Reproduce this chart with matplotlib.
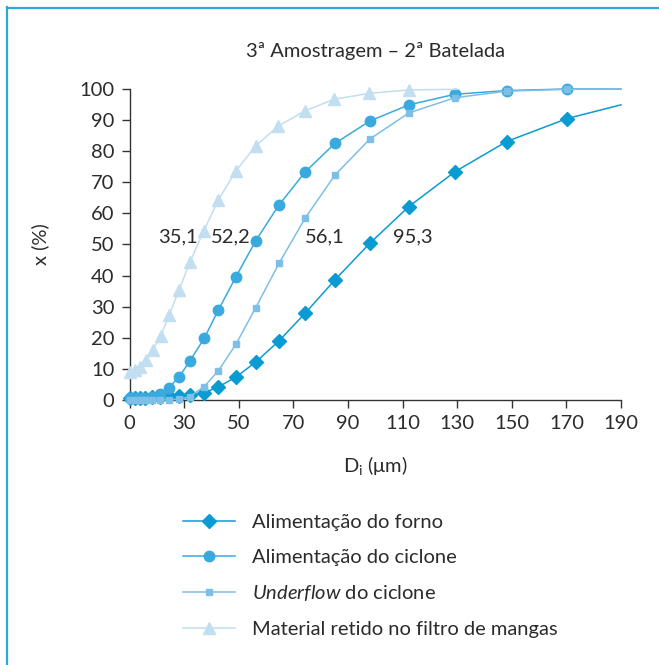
import matplotlib
matplotlib.use("Agg")
import matplotlib.pyplot as plt
from matplotlib.lines import Line2D

plt.rcParams['font.family'] = ['Lato', 'DejaVu Sans']
plt.rcParams['mathtext.fontset'] = 'custom'
plt.rcParams['mathtext.rm'] = 'Lato'
plt.rcParams['mathtext.it'] = 'Lato:italic'

# eixo x: o primeiro tick aparece como "0" na posicao 10
d_forno = [10.0, 11.9, 13.8, 15.7, 18.2, 21.1, 24.4, 28.2, 32.1, 37.3, 42.5, 49.0,
           56.2, 64.7, 74.4, 85.2, 98.0, 112.3, 129.2, 148.1, 170.3, 190.0]
x_forno = [0.5, 0.5, 0.6, 0.7, 0.9, 1.0, 1.2, 1.3, 1.6, 2.3, 4.2, 7.4,
           12.2, 19.0, 28.0, 38.6, 50.4, 62.2, 73.4, 83.1, 90.5, 94.9]

d_ciclone = [10.0, 11.9, 13.8, 15.7, 18.2, 21.1, 24.4, 28.2, 32.1, 37.3, 42.5, 49.0,
             56.2, 64.7, 74.4, 85.2, 98.0, 112.3, 129.2, 148.1, 170.3, 190.0]
x_ciclone = [0.5, 0.6, 0.7, 0.8, 1.1, 1.9, 4.0, 7.5, 12.6, 19.8, 28.9, 39.7,
             51.2, 62.7, 73.4, 82.5, 89.7, 94.9, 98.3, 99.5, 100.0, 100.0]

d_under = [10.0, 11.9, 13.8, 15.7, 18.2, 21.1, 24.4, 28.2, 32.1, 37.3, 42.5, 49.0,
           56.2, 64.7, 74.4, 85.2, 98.0, 112.3, 129.2, 148.1, 170.3, 190.0]
x_under = [0.0, 0.0, 0.0, 0.0, 0.0, 0.0, 0.1, 0.2, 1.1, 4.3, 9.4, 18.0,
           29.7, 43.9, 58.6, 72.3, 83.9, 92.3, 97.2, 99.3, 99.9, 100.0]

d_filtro = [10.1, 12.0, 13.8, 15.9, 18.5, 21.4, 24.5, 28.1, 32.1, 37.1, 42.5, 48.9,
            56.2, 64.5, 74.3, 85.0, 97.8, 112.3, 130.0]
x_filtro = [9.1, 9.6, 10.7, 12.9, 16.1, 20.6, 27.3, 35.4, 44.3, 54.3, 64.3, 73.6,
            81.7, 88.1, 93.0, 96.7, 98.6, 99.7, 99.9]

d50_txt = ['35,1', '52,2', '56,1', '95,3']
d50_x = [27.8, 47.1, 81.5, 113.8]
d50_y = [52.4, 52.4, 52.4, 52.4]

xticks = [10, 30, 50, 70, 90, 110, 130, 150, 170, 190]
xtick_labels = ['0', '30', '50', '70', '90', '110', '130', '150', '170', '190']
yticks = [0, 10, 20, 30, 40, 50, 60, 70, 80, 90, 100]

cor_forno = '#0a9bd3'
cor_ciclone = '#3aaade'
cor_under = '#7dbfe6'
cor_filtro = '#c2def1'
cor_texto = '#2b2b2b'
fs = 14.5

fig = plt.figure(figsize=(6.59, 6.65), dpi=100)
ax = fig.add_axes([0.1967, 0.3985, 0.7456, 0.4677])

ax.plot(d_forno, x_forno, color=cor_forno, lw=1.1, marker='D', ms=6.8,
        markevery=list(range(len(d_forno) - 1)), clip_on=False, zorder=3,
        label='Alimentação do forno')
ax.plot(d_ciclone, x_ciclone, color=cor_ciclone, lw=1.1, marker='o', ms=7.5,
        markevery=list(range(len(d_ciclone) - 1)), clip_on=False, zorder=3,
        label='Alimentação do ciclone')
ax.plot(d_under, x_under, color=cor_under, lw=1.1, marker='s', ms=5,
        markevery=list(range(len(d_under) - 1)), clip_on=False, zorder=3,
        label=r'$\mathit{Underflow}$ do ciclone')
ax.plot(d_filtro, x_filtro, color=cor_filtro, lw=1.1, marker='^', ms=8.5,
        markevery=list(range(len(d_filtro) - 1)), clip_on=False, zorder=3,
        label='Material retido no filtro de mangas')

for t, xx, yy in zip(d50_txt, d50_x, d50_y):
    ax.text(xx, yy, t, ha='center', va='center', fontsize=fs, color=cor_texto)

ax.set_xlim(10, 190)
ax.set_ylim(0, 100)
ax.set_xticks(xticks)
ax.set_xticklabels(xtick_labels)
ax.set_yticks(yticks)
ax.tick_params(axis='both', direction='out', length=6, width=1, color='#333333',
               labelsize=fs, labelcolor=cor_texto, pad=5)
for s in ['top', 'right']:
    ax.spines[s].set_visible(False)
for s in ['left', 'bottom']:
    ax.spines[s].set_color('#333333')
    ax.spines[s].set_linewidth(1)

ax.set_title('3ª Amostragem – 2ª Batelada', fontsize=fs, color=cor_texto, pad=23)
ax.set_xlabel(r'D$_\mathregular{i}$ (μm)', fontsize=fs, color=cor_texto, labelpad=16)
ax.set_ylabel('x (%)', fontsize=fs, color=cor_texto, labelpad=22)

fig.legend(loc='upper left', bbox_to_anchor=(183 / 659, 1 - 514 / 665), frameon=False,
           fontsize=fs, handlelength=2.6, handletextpad=0.85, labelspacing=0.87,
           borderpad=0, borderaxespad=0, labelcolor=cor_texto)

# moldura azul (topo e lado esquerdo)
fig.add_artist(Line2D([6.5 / 659, 6.5 / 659], [0, 1 - 7 / 665], color='#29a9de', lw=1.6))
fig.add_artist(Line2D([6.5 / 659, 1], [1 - 7.5 / 665, 1 - 7.5 / 665], color='#29a9de', lw=1.6))

fig.savefig('out.png', dpi=100)
